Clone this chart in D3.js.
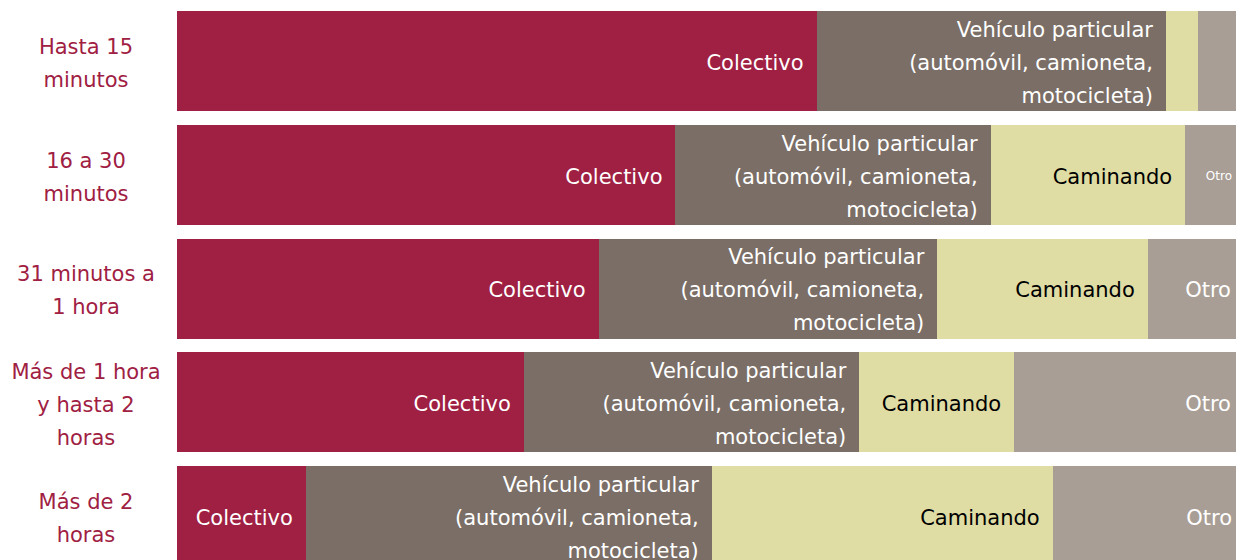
<!DOCTYPE html>
<html>
<head>
<meta charset="utf-8">
<script src="https://cdn.jsdelivr.net/npm/d3@7"></script>
<style>
  body { margin: 0; background: #fff; }
  svg { display: block; font-family: "DejaVu Sans", sans-serif; }
</style>
</head>
<body>
<div id="chart"></div>
<script>
// constants
const width = 1236
const height = 560
const margin = {top: 11, left: 176.5, right: -9}
const font_size = 21
const font_small = 12
const line_height = 33

// data (percent of trips per mode, by travel time)
const rows = [
    ['Hasta 15', 'minutos'],
    ['16 a 30', 'minutos'],
    ['31 minutos a', '1 hora'],
    ['Más de 1 hora', 'y hasta 2', 'horas'],
    ['Más de 2', 'horas']
]
const modes = ['Colectivo', 'Vehículo', 'Caminando', 'Otro']
const mode_labels = [
    ['Colectivo'],
    ['Vehículo particular', '(automóvil, camioneta,', 'motocicleta)'],
    ['Caminando'],
    ['Otro']
]
const colectivo = [59.9, 46.7, 39.5, 32.5, 12.1]
const vehiculo  = [32.7, 29.5, 31.7, 31.4, 38.0]
const caminando = [3.0, 18.2, 19.7, 14.5, 31.9]
const otro      = [4.4, 5.6, 9.0, 21.5, 18.0]

const colors = ['#9f2042', '#7a6e66', '#dfdca4', '#a89e95']
const text_colors = ['#fff', '#fff', '#000', '#fff']

const table = rows.map((r, i) => ({
    key: i,
    Colectivo: colectivo[i],
    'Vehículo': vehiculo[i],
    Caminando: caminando[i],
    Otro: otro[i]
}))

const stack = d3.stack().keys(modes)(table)

const svg = d3.select('#chart')
              .append('svg')
                .attr('width', width)
                .attr('height', height)

const x = d3.scaleLinear()
            .domain([0, 100])
            .range([margin.left, width - margin.right])

const y = d3.scaleBand()
            .domain(d3.range(rows.length))
            .range([margin.top, 566])
            .paddingInner(0.121)
            .paddingOuter(0)

// bars
const layer = svg.selectAll('g.layer')
    .data(stack)
    .join('g')
        .attr('class', 'layer')
        .attr('fill', (d, i) => colors[i])

layer.selectAll('rect')
    .data(d => d)
    .join('rect')
        .attr('x', d => Math.round(x(d[0])))
        .attr('y', (d, i) => Math.round(y(i)))
        .attr('width', d => Math.round(x(d[1])) - Math.round(x(d[0])))
        .attr('height', Math.round(y.bandwidth()))
        .attr('shape-rendering', 'crispEdges')

// segment labels, right aligned inside each segment
function measure(text, size) {
    const t = svg.append('text').attr('font-size', size).text(text)
    const w = t.node().getComputedTextLength()
    t.remove()
    return w
}

stack.forEach((s, k) => {
    const lines = mode_labels[k]
    s.forEach((d, i) => {
        const w = x(d[1]) - x(d[0])
        const need = d3.max(lines, l => measure(l, font_size)) + 26
        let size = font_size
        if (w < need) {
            // narrow segment: smaller text, or none if it is too narrow
            if (lines.length == 1 && w > 55) size = font_small
            else return
        }
        const cy = y(i) + y.bandwidth() / 2 + 1.5
        const t = svg.append('text')
            .attr('text-anchor', 'end')
            .attr('fill', text_colors[k])
            .attr('font-size', size)
        lines.forEach((l, j) => {
            t.append('tspan')
                .attr('x', x(d[1]) - 13)
                .attr('y', cy + (j - (lines.length - 1) / 2) * line_height)
                .attr('dy', '0.35em')
                .text(l)
        })
    })
})

// row labels
rows.forEach((r, i) => {
    const cy = y(i) + y.bandwidth() / 2 + 2
    const t = svg.append('text')
        .attr('text-anchor', 'middle')
        .attr('fill', '#9f2042')
        .attr('font-size', font_size)
    r.forEach((l, j) => {
        t.append('tspan')
            .attr('x', 86)
            .attr('y', cy + (j - (r.length - 1) / 2) * line_height)
            .attr('dy', '0.35em')
            .text(l)
    })
})
</script>
</body>
</html>
